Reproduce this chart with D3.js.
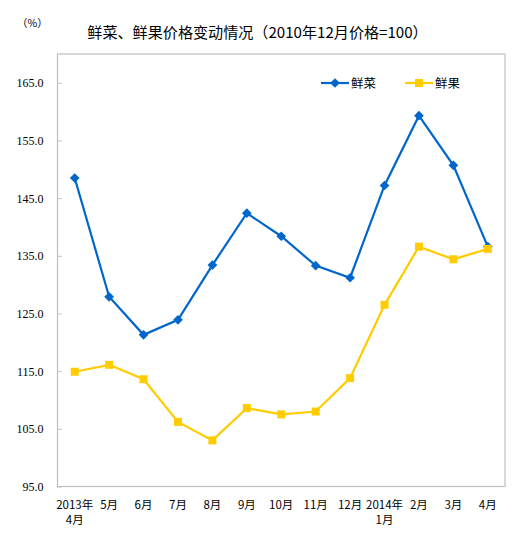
<!DOCTYPE html>
<html><head><meta charset="utf-8">
<script src="https://cdn.jsdelivr.net/npm/d3@7"></script>
<style>body{margin:0;background:#fff}</style>
</head><body>
<svg id="c" width="523" height="533"></svg>
<script>
const categories = ["2013年\n4月","5月","6月","7月","8月","9月","10月","11月","12月","2014年\n1月","2月","3月","4月"];
const vegetables = [148.5,127.9,121.3,123.9,133.4,142.4,138.4,133.3,131.2,147.2,159.3,150.7,136.6];
const fruits = [114.9,116.1,113.6,106.2,103.0,108.6,107.5,108.0,113.8,126.5,136.6,134.4,136.2];
const yTicks = [95,105,115,125,135,145,155,165];
const seriesNames = ["鲜菜","鲜果"];
const colors = ["#0066cc","#ffcc00"];

const svg = d3.select("#c");
const L = 57.5, R = 505, T = 54, B = 486.5;
const x = d3.scaleBand().domain(categories).range([L, R]);
const y = d3.scaleLinear().domain([95,170]).range([B, T]);
const cjk = "'Noto Sans CJK SC', sans-serif";

svg.append("text").attr("x",257.5).attr("y",38).attr("text-anchor","middle")
  .attr("font-family",cjk).attr("font-size",15.1).attr("fill","#000")
  .text("鲜菜、鲜果价格变动情况（2010年12月价格=100）");
svg.append("text").attr("x",17).attr("y",27).attr("font-family",cjk).attr("font-size",10.5).text("（%）");

svg.append("rect").attr("x",L).attr("y",T).attr("width",R-L).attr("height",B-T)
  .attr("fill","none").attr("stroke","#bfbfbf").attr("stroke-width",1.2);

const yAxis = svg.append("g").attr("transform",`translate(${L},0)`)
  .call(d3.axisLeft(y).tickValues(yTicks).tickSize(-4).tickPadding(14).tickFormat(d3.format(".1f")));
yAxis.select(".domain").remove();
yAxis.selectAll("line").attr("stroke","#bfbfbf");
yAxis.selectAll("text").attr("font-family","'Liberation Serif', serif").attr("font-size",12).attr("fill","#000");

const xg = svg.append("g");
categories.forEach(c => {
  const lines = c.split("\n");
  const t = xg.append("text").attr("x", x(c)+x.bandwidth()/2).attr("y",509)
    .attr("text-anchor","middle").attr("font-family",cjk).attr("font-size",11.5).attr("fill","#000");
  lines.forEach((l,i)=> t.append("tspan").attr("x",x(c)+x.bandwidth()/2).attr("dy", i?15:0).text(l));
});

const line = d3.line().x((d,i)=>x(categories[i])+x.bandwidth()/2).y(d=>y(d));
[vegetables, fruits].forEach((s,k)=>{
  svg.append("path").datum(s).attr("d",line).attr("fill","none").attr("stroke",colors[k]).attr("stroke-width",2.2);
  const sym = d3.symbol().type(k===0?d3.symbolDiamond2:d3.symbolSquare).size(k===0?60:64);
  svg.selectAll(null).data(s).enter().append("path")
    .attr("transform",(d,i)=>`translate(${x(categories[i])+x.bandwidth()/2},${y(d)})`)
    .attr("d",sym).attr("fill",colors[k]);
});

const lg = [[321,seriesNames[0]],[405,seriesNames[1]]];
lg.forEach(([lx,name],k)=>{
  svg.append("line").attr("x1",lx).attr("x2",lx+28).attr("y1",83).attr("y2",83).attr("stroke",colors[k]).attr("stroke-width",2.2);
  const sym = d3.symbol().type(k===0?d3.symbolDiamond2:d3.symbolSquare).size(k===0?60:64);
  svg.append("path").attr("transform",`translate(${lx+14},83)`).attr("d",sym).attr("fill",colors[k]);
  svg.append("text").attr("x",lx+30).attr("y",88).attr("font-family",cjk).attr("font-size",12.5).text(name);
});
</script>
</body></html>
